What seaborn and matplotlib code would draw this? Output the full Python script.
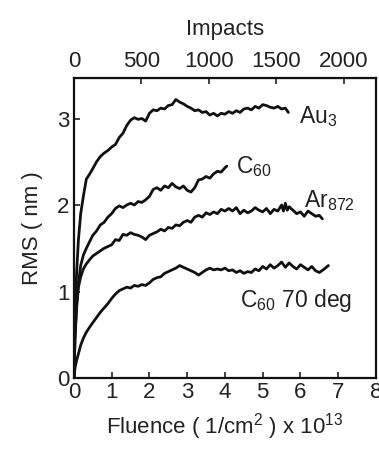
import numpy as np
import pandas as pd
import seaborn as sns
import matplotlib
matplotlib.use('Agg')
import matplotlib.pyplot as plt

# ---- Data ----
au3_x = [0, 0.03, 0.07, 0.12, 0.18, 0.25, 0.33, 0.42, 0.5, 0.6, 0.7, 0.8, 0.9, 1.0, 1.1, 1.2, 1.3, 1.4,
         1.5, 1.6, 1.7, 1.8, 1.9, 2.0, 2.1, 2.2, 2.3, 2.4, 2.5, 2.6, 2.7, 2.8, 2.9, 3.0, 3.1, 3.2, 3.3,
         3.4, 3.5, 3.6, 3.7, 3.8, 3.9, 4.0, 4.1, 4.2, 4.3, 4.4, 4.5, 4.6, 4.7, 4.8, 4.9, 5.0, 5.1, 5.2,
         5.3, 5.4, 5.5, 5.6, 5.68]
au3_y = [0, 0.7, 1.2, 1.6, 1.9, 2.1, 2.3, 2.36, 2.42, 2.5, 2.56, 2.6, 2.63, 2.67, 2.7, 2.78, 2.83, 2.92,
         2.98, 3.01, 2.99, 3.0, 2.97, 3.06, 3.1, 3.09, 3.12, 3.11, 3.15, 3.16, 3.22, 3.19, 3.17, 3.14,
         3.12, 3.09, 3.1, 3.07, 3.08, 3.04, 3.06, 3.03, 3.06, 3.05, 3.08, 3.06, 3.09, 3.07, 3.11, 3.12,
         3.1, 3.14, 3.12, 3.16, 3.15, 3.13, 3.12, 3.14, 3.11, 3.12, 3.07]

c60_x = [0, 0.03, 0.07, 0.12, 0.18, 0.25, 0.33, 0.42, 0.5, 0.6, 0.7, 0.8, 0.9, 1.0, 1.1, 1.2, 1.3, 1.4,
         1.5, 1.6, 1.7, 1.8, 1.9, 2.0, 2.1, 2.2, 2.3, 2.4, 2.5, 2.6, 2.7, 2.8, 2.9, 3.0, 3.1, 3.2, 3.3,
         3.4, 3.5, 3.6, 3.7, 3.8, 3.9, 4.0, 4.05]
c60_y = [0, 0.5, 0.85, 1.1, 1.3, 1.42, 1.5, 1.58, 1.65, 1.7, 1.77, 1.8, 1.86, 1.9, 1.96, 1.99, 1.97, 2.0,
         2.02, 2.0, 2.04, 2.03, 2.06, 2.1, 2.18, 2.2, 2.17, 2.22, 2.2, 2.25, 2.21, 2.19, 2.22, 2.17, 2.15,
         2.2, 2.29, 2.3, 2.33, 2.31, 2.36, 2.39, 2.38, 2.43, 2.45]

ar_x = [0, 0.03, 0.07, 0.12, 0.18, 0.25, 0.33, 0.42, 0.5, 0.6, 0.7, 0.8, 0.9, 1.0, 1.1, 1.2, 1.3, 1.4,
        1.5, 1.6, 1.7, 1.8, 1.9, 2.0, 2.1, 2.2, 2.3, 2.4, 2.5, 2.6, 2.7, 2.8, 2.9, 3.0, 3.1, 3.2, 3.3,
        3.4, 3.5, 3.6, 3.7, 3.8, 3.9, 4.0, 4.1, 4.2, 4.3, 4.4, 4.5, 4.6, 4.7, 4.8, 4.9, 5.0, 5.1, 5.2,
        5.3, 5.4, 5.5, 5.55, 5.6, 5.65, 5.7, 5.8, 5.9, 6.0, 6.1, 6.2, 6.3, 6.4, 6.5, 6.58]
ar_y = [0, 0.45, 0.8, 1.05, 1.17, 1.26, 1.32, 1.37, 1.41, 1.44, 1.47, 1.5, 1.52, 1.54, 1.6, 1.59, 1.66,
        1.65, 1.68, 1.66, 1.65, 1.63, 1.6, 1.65, 1.67, 1.69, 1.72, 1.7, 1.74, 1.73, 1.77, 1.76, 1.8,
        1.82, 1.8, 1.86, 1.88, 1.86, 1.91, 1.89, 1.92, 1.9, 1.95, 1.93, 1.96, 1.93, 1.97, 1.9, 1.94,
        1.91, 1.93, 1.97, 1.94, 1.92, 1.96, 1.9, 1.95, 1.93, 2.0, 1.93, 2.02, 1.94, 1.98, 1.94, 1.9,
        1.92, 1.87, 1.93, 1.9, 1.87, 1.88, 1.84]

c60_70_x = [0, 0.03, 0.07, 0.12, 0.18, 0.25, 0.33, 0.42, 0.5, 0.6, 0.7, 0.8, 0.9, 1.0, 1.1, 1.2, 1.3,
            1.4, 1.5, 1.6, 1.7, 1.8, 1.9, 2.0, 2.1, 2.2, 2.3, 2.4, 2.5, 2.6, 2.7, 2.8, 2.9, 3.0, 3.1,
            3.2, 3.3, 3.4, 3.5, 3.6, 3.7, 3.8, 3.9, 4.0, 4.1, 4.2, 4.3, 4.4, 4.5, 4.6, 4.7, 4.8, 4.9,
            5.0, 5.1, 5.2, 5.3, 5.4, 5.5, 5.6, 5.7, 5.8, 5.9, 6.0, 6.1, 6.2, 6.3, 6.4, 6.5, 6.6, 6.74]
c60_70_y = [0, 0.12, 0.2, 0.28, 0.38, 0.46, 0.53, 0.59, 0.64, 0.7, 0.76, 0.81, 0.86, 0.92, 0.97, 1.01,
            1.03, 1.05, 1.04, 1.07, 1.06, 1.08, 1.07, 1.1, 1.14, 1.16, 1.17, 1.21, 1.23, 1.25, 1.27,
            1.3, 1.28, 1.26, 1.24, 1.22, 1.19, 1.22, 1.25, 1.27, 1.25, 1.26, 1.25, 1.27, 1.24, 1.25,
            1.22, 1.24, 1.21, 1.23, 1.22, 1.26, 1.24, 1.29, 1.26, 1.31, 1.27, 1.3, 1.34, 1.28, 1.33,
            1.29, 1.26, 1.31, 1.28, 1.25, 1.29, 1.24, 1.22, 1.25, 1.3]

series_names = ['Au3', 'C60', 'Ar872', 'C60 70 deg']
series_labels = ['Au$_3$', 'C$_{60}$', 'Ar$_{872}$', 'C$_{60}$ 70 deg']
label_pos = [(5.95, 3.02), (4.3, 2.45), (6.1, 2.05), (4.4, 0.9)]
impacts_per_fluence = 280
impact_ticks = [0, 500, 1000, 1500, 2000]

frames = []
for name, xs, ys in zip(series_names, [au3_x, c60_x, ar_x, c60_70_x], [au3_y, c60_y, ar_y, c60_70_y]):
    frames.append(pd.DataFrame({'fluence': xs, 'rms': ys, 'series': name}))
df = pd.concat(frames, ignore_index=True)

# ---- Styling ----
sns.set_style('ticks')
plt.rcParams['font.family'] = ['Liberation Sans', 'DejaVu Sans']
plt.rcParams['mathtext.default'] = 'regular'
plt.rcParams['text.color'] = '#222222'
plt.rcParams['axes.labelcolor'] = '#222222'
plt.rcParams['xtick.color'] = '#222222'
plt.rcParams['ytick.color'] = '#222222'

fs = 16
fig = plt.figure(figsize=(3.79, 4.5), dpi=100)
ax = fig.add_axes([0.195, 0.16, 0.797, 0.667])

sns.lineplot(data=df, x='fluence', y='rms', hue='series', units='series', estimator=None, sort=False,
             palette=['#111111'] * 4, linewidth=2.0, legend=False, ax=ax)

for lab, (tx, ty) in zip(series_labels, label_pos):
    ax.text(tx, ty, lab, fontsize=16.5, va='center', ha='left')

ax.set_xlim(0, 8)
ax.set_ylim(0, 3.47)
ax.set_xticks(range(0, 9))
ax.set_yticks([0, 1, 2, 3])
ax.tick_params(direction='in', length=4, width=1.2, labelsize=fs, pad=3)
ax.set_xlabel('Fluence ( 1/cm$^2$ ) x 10$^{13}$', fontsize=fs, labelpad=6)
ax.set_ylabel('RMS ( nm )', fontsize=fs, labelpad=10)
for sp in ax.spines.values():
    sp.set_linewidth(1.6)
    sp.set_color('#111111')

top = ax.secondary_xaxis('top', functions=(lambda x: x * impacts_per_fluence,
                                           lambda x: x / impacts_per_fluence))
top.set_xticks(impact_ticks)
top.tick_params(direction='in', length=4, width=1.2, labelsize=fs, pad=4)
top.set_xlabel('Impacts', fontsize=fs, labelpad=12)

fig.savefig('out.png', dpi=100)
